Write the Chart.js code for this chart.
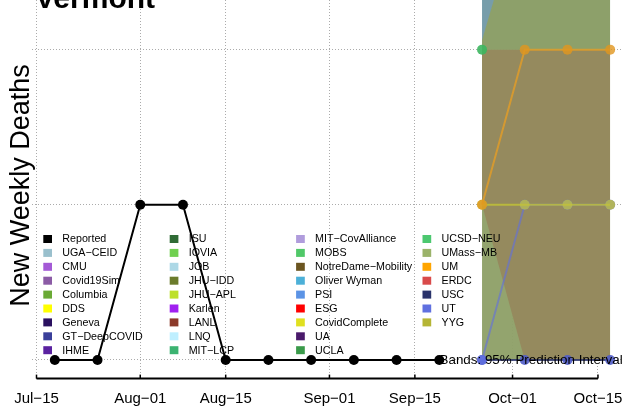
<!DOCTYPE html>
<html>
<head>
<meta charset="utf-8">
<script src="https://cdn.jsdelivr.net/npm/chart.js@4.4.1/dist/chart.umd.min.js"></script>
<style>
html,body{margin:0;padding:0;background:#fff;overflow:hidden;}
#wrap{position:relative;width:623px;height:413px;}
</style>
</head>
<body>
<div id="wrap"><canvas id="c" width="623" height="413"></canvas></div>
<script>
// ---------- DATA ----------
const chartTitle = 'Vermont';
const yAxisTitle = 'New Weekly Deaths';
const bandNote = 'Bands: 95% Prediction Intervals';

const originDate = '2020-07-15';
const tickDates = ['2020-07-15','2020-08-01','2020-08-15','2020-09-01','2020-09-15','2020-10-01','2020-10-15'];
const tickLabels = ['Jul\u221215','Aug\u221201','Aug\u221215','Sep\u221201','Sep\u221215','Oct\u221201','Oct\u221215'];
const yTickValues = [0, 1, 2];

const reportedWeeks = ['2020-07-18','2020-07-25','2020-08-01','2020-08-08','2020-08-15','2020-08-22','2020-08-29','2020-09-05','2020-09-12','2020-09-19'];
const reportedDeaths = [0, 0, 1, 1, 0, 0, 0, 0, 0, 0];

const forecastWeeks = ['2020-09-26','2020-10-03','2020-10-10','2020-10-17'];
// point forecasts (medians)
const mobsMedian = [2, null, null, null];
const umMedian   = [1, 2, 2, 2];
const yygMedian  = [1, 1, 1, 1];
const utMedian   = [0, 1, 1, 1];
const uscMedian  = [0, 0, 0, 0];
// 95% prediction interval bands
const bandBlueLower  = [2, 2, 2, 2];
const bandBlueUpper  = [6, 6, 6, 6];
const bandGreenLower = [0, 0, 0, 0];
const bandGreenUpper = [2.06, 3, 3, 3];
const bandBrownLower = [1, 0, 0, 0];
const bandBrownUpper = [2, 2, 2, 2];

const legendNames = ['Reported','UGA\u2212CEID','CMU','Covid19Sim','Columbia','DDS','Geneva','GT\u2212DeepCOVID','IHME',
  'ISU','IOVIA','JOB','JHU\u2212IDD','JHU\u2212APL','Karlen','LANL','LNQ','MIT\u2212LCP',
  'MIT\u2212CovAlliance','MOBS','NotreDame\u2212Mobility','Oliver Wyman','PSI','ESG','CovidComplete','UA','UCLA',
  'UCSD\u2212NEU','UMass\u2212MB','UM','ERDC','USC','UT','YYG'];
const legendColors = ['#000000','#9AC0CD','#A45AD6','#8B5BA5','#6AAA35','#FFFF00','#2A1060','#3A3F9A','#5A22A0',
  '#2F6B35','#70D050','#ADD8E6','#6B7B2B','#BDE02A','#A020F0','#8B3A2A','#BFEFFF','#3CB371',
  '#B09CDC','#50C868','#6B5520','#4CB0D8','#5B93E5','#FF0000','#E0E020','#4A1A6B','#3A9A4A',
  '#4CC870','#9BB36A','#FFA500','#D94A4A','#2A336B','#6070E0','#B5B535'];
const legendRows = 9;

// ---------- helpers ----------
function dayOf(s){const p=s.split('-').map(Number);const o=originDate.split('-').map(Number);
  return (Date.UTC(p[0],p[1]-1,p[2])-Date.UTC(o[0],o[1]-1,o[2]))/86400000;}
const tickDays = tickDates.map(dayOf);
function pts(dates, vals){return dates.map((d,i)=>({x:dayOf(d), y:vals[i]}));}

function lineDs(label, dates, vals, color, pointColor, order, width){
  return {label, data: pts(dates, vals), borderColor: color, backgroundColor: pointColor,
    pointBackgroundColor: pointColor, pointBorderColor: pointColor, pointBorderWidth: 0,
    pointRadius: 5, borderWidth: width, fill: false, tension: 0, order, spanGaps: false};
}
function bandDs(label, dates, lower, upper, color, order){
  return [
    {label: label+' lo', data: pts(dates, lower), borderWidth: 0, pointRadius: 0, fill: false, order, borderColor:'rgba(0,0,0,0)'},
    {label: label+' hi', data: pts(dates, upper), borderWidth: 0, pointRadius: 0, fill: '-1', backgroundColor: color, order, borderColor:'rgba(0,0,0,0)'}
  ];
}

const datasets = [
  lineDs('Reported', reportedWeeks, reportedDeaths, '#000000', '#000000', 0, 2),
  lineDs('MOBS', forecastWeeks, mobsMedian, 'rgba(60,180,95,0.8)', 'rgba(60,182,95,0.9)', 10, 2),
  lineDs('USC', forecastWeeks, uscMedian, 'rgba(42,51,107,0.85)', 'rgba(80,92,200,0.9)', 14, 2),
  lineDs('UT', forecastWeeks, utMedian, 'rgba(96,112,224,0.6)', 'rgba(96,112,224,0.85)', 13, 2),
  lineDs('YYG', forecastWeeks, yygMedian, 'rgba(192,192,55,0.85)', 'rgba(192,192,60,0.8)', 11, 2),
  lineDs('UM', forecastWeeks, umMedian, 'rgba(240,160,30,0.7)', 'rgba(225,150,30,0.8)', 10.5, 2),
  ...bandDs('blueBand', forecastWeeks, bandBlueLower, bandBlueUpper, 'rgba(112,152,165,0.95)', 60),
  ...bandDs('greenBand', forecastWeeks, bandGreenLower, bandGreenUpper, 'rgba(143,160,104,0.96)', 55),
  ...bandDs('brownBand', forecastWeeks, bandBrownLower, bandBrownUpper, 'rgba(150,137,94,0.96)', 50)
];

const decor = {
  id: 'decor',
  afterDraw(chart){
    const ctx = chart.ctx, xs = chart.scales.x, ys = chart.scales.y;
    ctx.save();
    ctx.fillStyle = '#000';
    // title (partially above the page)
    ctx.font = 'bold 30px "Liberation Sans", Arial, sans-serif';
    ctx.textAlign = 'left'; ctx.textBaseline = 'alphabetic';
    ctx.fillText(chartTitle, 35, 7.5);
    // y axis title
    ctx.save();
    ctx.translate(28.5, 185.5); ctx.rotate(-Math.PI/2);
    ctx.font = '27px "Liberation Sans", Arial, sans-serif';
    ctx.textAlign = 'center'; ctx.fillText(yAxisTitle, 0, 0);
    ctx.restore();
    // x axis line with inward ticks
    const x0 = xs.getPixelForValue(tickDays[0]);
    const x1 = xs.getPixelForValue(tickDays[tickDays.length-1]);
    const yA = ys.bottom;
    ctx.strokeStyle = '#000'; ctx.lineWidth = 2;
    ctx.beginPath(); ctx.moveTo(x0, yA); ctx.lineTo(x1, yA); ctx.stroke();
    ctx.lineWidth = 1.5;
    tickDays.forEach(d => { const px = xs.getPixelForValue(d);
      ctx.beginPath(); ctx.moveTo(px, yA); ctx.lineTo(px, yA-4); ctx.stroke(); });
    // legend
    ctx.font = '10.7px "Liberation Sans", Arial, sans-serif';
    ctx.textBaseline = 'middle'; ctx.textAlign = 'left';
    legendNames.forEach((n, i) => {
      const col = Math.floor(i / legendRows), row = i % legendRows;
      const sx = 43.3 + col*126.4, cy = 239 + row*13.9;
      ctx.fillStyle = legendColors[i];
      ctx.fillRect(sx, cy-4, 8.7, 8);
      ctx.fillStyle = '#000';
      ctx.fillText(n, sx + 19, cy + 0.5);
    });
    // band note
    ctx.font = '13.4px "Liberation Sans", Arial, sans-serif';
    ctx.fillText(bandNote, 439.5, 360);
    ctx.restore();
  }
};

const pxPerDay = 6.103;
const xMin = -(36.5-32)/pxPerDay;
const xMax = xMin + 591/pxPerDay;
const plotBottom = 378.6;

new Chart(document.getElementById('c'), {
  type: 'line',
  data: { datasets },
  options: {
    responsive: false, animation: false, devicePixelRatio: 1,
    layout: { autoPadding: false, padding: { left: 32, right: 0, top: 0, bottom: 0 } },
    plugins: { legend: { display: false }, tooltip: { enabled: false }, title: { display: false } },
    scales: {
      x: {
        type: 'linear', min: xMin, max: xMax,
        afterBuildTicks: s => { s.ticks = tickDays.map(v => ({ value: v })); },
        afterFit: s => { s.height = 413 - plotBottom; s.paddingLeft = 0; s.paddingRight = 0; },
        ticks: { autoSkip: false, maxRotation: 0, padding: 11.5, color: '#000',
          font: { family: '"Liberation Sans", Arial, sans-serif', size: 15 },
          callback: v => { const k = tickDays.indexOf(v); return k >= 0 ? tickLabels[k] : ''; } },
        grid: { color: '#ababab', lineWidth: 1, drawTicks: false },
        border: { display: false, dash: [1, 2] }
      },
      y: {
        type: 'linear', min: -0.12, max: 2.32,
        afterBuildTicks: s => { s.ticks = yTickValues.map(v => ({ value: v })); },
        afterFit: s => { s.width = 0; s.paddingTop = 0; s.paddingBottom = 0; },
        ticks: { display: false },
        grid: { color: '#ababab', lineWidth: 1, drawTicks: false },
        border: { display: false, dash: [1, 2] }
      }
    }
  },
  plugins: [decor]
});
</script>
</body>
</html>
